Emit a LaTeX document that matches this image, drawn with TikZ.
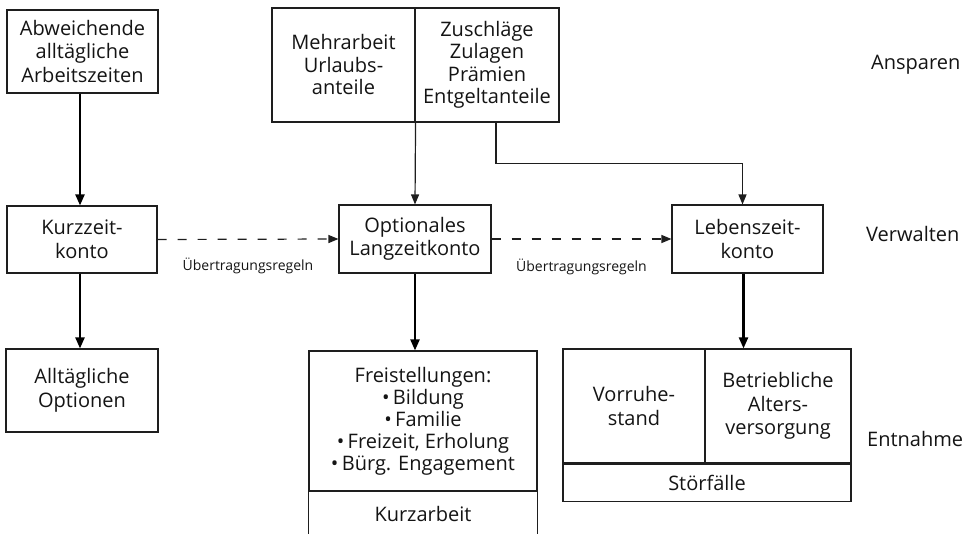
\documentclass[tikz,border=0pt]{standalone}
\usepackage{fontspec}
\setmainfont{Open Sans}
\usetikzlibrary{arrows.meta,calc}
\definecolor{ink}{HTML}{141414}
\definecolor{linec}{HTML}{1E1E1E}
\tikzset{
  box/.style={draw=linec, line width=1.1pt, inner sep=2pt, align=center, text=ink,
    font=\fontsize{20}{23.5}\selectfont},
  plain/.style={inner sep=2pt, align=center, text=ink, font=\fontsize{20}{23.5}\selectfont},
  side/.style={inner sep=0pt, anchor=west, text=ink, font=\fontsize{20}{23.5}\selectfont},
  small/.style={inner sep=0pt, text=ink, font=\fontsize{14}{16}\selectfont},
  thickarrow/.style={draw=black, line width=2.2pt, -{Triangle[length=11pt,width=9pt]}},
  thinarrow/.style={draw=linec, line width=1.2pt, -{Triangle[length=10pt,width=8pt]}},
  dasharrow/.style={draw=linec, line width=1.2pt, dash pattern=on 9pt off 11pt, -{Triangle[length=10pt,width=8pt]}},
}
\begin{document}
\begin{tikzpicture}[x=1pt,y=-1pt]
\useasboundingbox (0,0) rectangle (968,534);
% left column
\node[box, minimum width=151, minimum height=83] (abw) at (82.5,51.5) {Abweichende\\alltägliche\\Arbeitszeiten};
\node[box, minimum width=150, minimum height=67] (kzk) at (82,239.5) {Kurzzeit-\\konto};
\node[box, minimum width=152, minimum height=83] (allt) at (82,390.5) {Alltägliche\\Optionen};
% top middle
\node[box, minimum width=143, minimum height=114, font=\fontsize{20}{22.5}\selectfont] (mehr) at (343.5,65) {Mehrarbeit\\Urlaubs-\\anteile};
\node[box, minimum width=144, minimum height=114, font=\fontsize{20}{22.5}\selectfont] (zus) at (487,65) {Zuschläge\\Zulagen\\Prämien\\Entgeltanteile};
% middle
\node[box, minimum width=152, minimum height=68] (opt) at (415,239) {Optionales\\Langzeitkonto};
\node[box, minimum width=228, minimum height=140, font=\fontsize{20}{22}\selectfont] (frei) at (423,421)
  {Freistellungen:\\\textbullet\,Bildung\\\textbullet\,Familie\\\textbullet\,Freizeit, Erholung\\\textbullet\,Bürg. Engagement};
\node[plain, minimum width=228, minimum height=45, anchor=north] (kurz) at (frei.south) {Kurzarbeit};
\draw[draw=linec, line width=1.1pt] (kurz.north west) -- (kurz.south west);
\draw[draw=linec, line width=1.1pt] (kurz.north east) -- (kurz.south east);
% right
\node[box, minimum width=151, minimum height=68] (leb) at (747.5,239) {Lebenszeit-\\konto};
\node[box, minimum width=142, minimum height=114] (vor) at (634,406) {Vorruhe-\\stand};
\node[box, minimum width=146, minimum height=114] (betr) at (778,406) {Betriebliche\\Alters-\\versorgung};
\node[box, minimum width=288, minimum height=37, anchor=north west] (stoer) at (vor.south west) {Störfälle};
% side labels
\node[side] (ansp) at (871,65) {Ansparen};
\node[side] (verw) at (866,234) {Verwalten};
\node[side] (entn) at (867,439) {Entnahme};
% connectors
\draw[thickarrow] (abw.south -| 80,0) -- (kzk.north -| 80,0);
\draw[thickarrow] (kzk.south -| 80,0) -- (allt.north -| 80,0);
\draw[thinarrow] (mehr.south east) -- (opt.north);
\coordinate (zs) at ($(zus.south)+(9,0)$);
\coordinate (lt) at ($(leb.north)+(-5,0)$);
\draw[thinarrow] (zs) |- ($(zs)!0.5!(lt)$) -| (lt);
\draw[dasharrow] (kzk.east) -- (opt.west) node[small, pos=0.5, yshift=-27] (ue1) {Übertragungsregeln};
\draw[dasharrow] (opt.east) -- (leb.west) node[small, pos=0.5, yshift=-28] (ue2) {Übertragungsregeln};
\draw[thickarrow] (opt.south) -- (opt.south |- frei.north);
\draw[thickarrow] ($(leb.south)+(-4,0)$) -- ($(leb.south |- vor.north)+(-4,0)$);
\end{tikzpicture}
\end{document}
